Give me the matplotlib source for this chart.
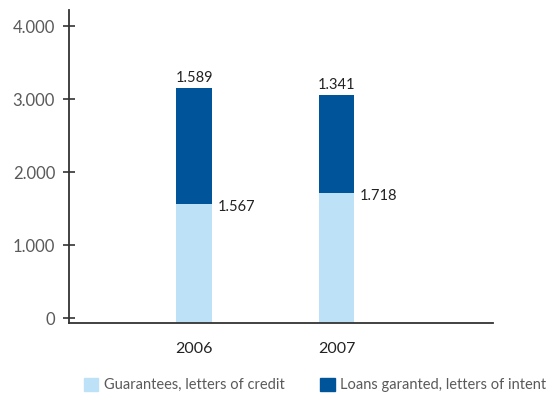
import numpy as np
import matplotlib.pyplot as plt
from matplotlib.patches import Patch

years = ["2006", "2007"]
guarantees = [1567, 1718]
loans = [1589, 1341]
series_names = ["Guarantees, letters of credit", "Loans garanted, letters of intent"]
yticks = [0, 1000, 2000, 3000, 4000]

light = "#bde2f7"
dark = "#00549a"
grey = "#5a5a5a"

plt.rcParams['font.family'] = ['Lato', 'DejaVu Sans']


def fmt(v):
    # thousands separator as a dot
    return "{:,}".format(v).replace(",", ".")


fig = plt.figure(figsize=(5.53, 3.97), dpi=100)
ax = fig.add_axes([0.1248, 0.1864, 0.7667, 0.7884])

ymin, ymax = -68, 4220
x = np.arange(len(years))
width = 0.25

ax.bar(x, np.array(guarantees) - ymin, width, bottom=ymin, color=light)
ax.bar(x, loans, width, bottom=guarantees, color=dark)

for i in range(len(years)):
    top = guarantees[i] + loans[i]
    ax.text(x[i], top + 40, fmt(loans[i]), ha="center", va="bottom",
            fontsize=10.5, color="#222222")
    ax.text(x[i] + width / 2 + 0.04, guarantees[i] - 50, fmt(guarantees[i]),
            ha="left", va="center", fontsize=10.5, color="#222222")

ax.set_xlim(-0.877, 2.098)
ax.set_ylim(ymin, ymax)
ax.set_xticks(x)
ax.set_xticklabels(years, fontsize=11.5, color="#222222")
ax.set_yticks(yticks)
ax.set_yticklabels([fmt(v) for v in yticks], fontsize=12, color=grey)
ax.tick_params(axis="x", length=0, pad=14)
ax.tick_params(axis="y", direction="inout", length=8, width=1.2,
               color="#333333", pad=6)

for side in ["top", "right"]:
    ax.spines[side].set_visible(False)
for side in ["left", "bottom"]:
    ax.spines[side].set_color("#333333")
    ax.spines[side].set_linewidth(1.3)

handles = [Patch(color=light), Patch(color=dark)]
leg = fig.legend(handles, series_names, loc="center", ncol=2,
                 bbox_to_anchor=(0.570, 0.03), frameon=False, fontsize=10.5,
                 handlelength=1.0, handleheight=1.0, handletextpad=0.4,
                 columnspacing=2.4)
for t in leg.get_texts():
    t.set_color(grey)

fig.savefig("out.png", dpi=100)
